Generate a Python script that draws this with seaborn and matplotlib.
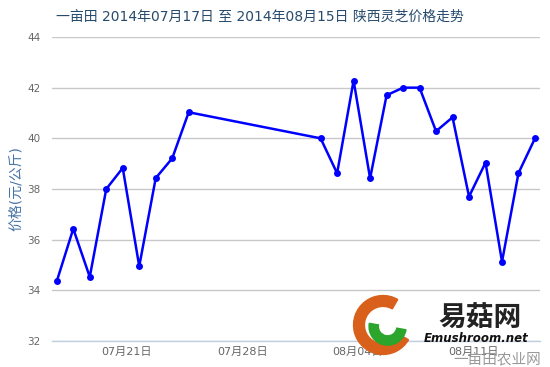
import matplotlib
matplotlib.use("Agg")
import matplotlib.pyplot as plt
import matplotlib.transforms as mtransforms
from matplotlib.patches import Wedge
import seaborn as sns
import pandas as pd

dates = ["2014-07-17", "2014-07-18", "2014-07-19", "2014-07-20", "2014-07-21",
         "2014-07-22", "2014-07-23", "2014-07-24", "2014-07-25",
         "2014-08-02", "2014-08-03", "2014-08-04", "2014-08-05", "2014-08-06",
         "2014-08-07", "2014-08-08", "2014-08-09", "2014-08-10", "2014-08-11",
         "2014-08-12", "2014-08-13", "2014-08-14", "2014-08-15"]
prices = [34.36, 36.43, 34.53, 38.0, 38.83, 34.95, 38.43, 39.21, 41.03,
          40.0, 38.62, 42.28, 38.42, 41.7, 42.0, 42.0, 40.28, 40.83, 37.7,
          39.04, 35.13, 38.63, 40.0]
tick_dates = ["2014-07-21", "2014-07-28", "2014-08-04", "2014-08-11"]
tick_labels = ["07月21日", "07月28日", "08月04日", "08月11日"]
y_ticks = [32, 34, 36, 38, 40, 42, 44]
title = "一亩田 2014年07月17日 至 2014年08月15日 陕西灵芝价格走势"
ylabel = "价格(元/公斤)"

df = pd.DataFrame({"date": pd.to_datetime(dates), "price": prices})

sns.set_style("white")
plt.rcParams['font.family'] = ['DejaVu Sans', 'Noto Sans CJK SC']

fig = plt.figure(figsize=(5.5, 3.67), dpi=100)
ax = fig.add_axes([0.0945, 0.0708, 0.8882, 0.8284])

sns.lineplot(data=df, x="date", y="price", ax=ax, color="#0000FF", lw=1.8,
             marker="o", markersize=5, markeredgewidth=0, zorder=3)

ax.set_ylim(32, 44)
ax.set_yticks(y_ticks)
ax.set_xlim(pd.Timestamp("2014-07-17") - pd.Timedelta(hours=7),
            pd.Timestamp("2014-08-15") + pd.Timedelta(hours=8))
ax.set_xticks(pd.to_datetime(tick_dates))
ax.set_xticklabels(tick_labels)
ax.grid(axis="y", color="#C8C8C8", lw=1)
ax.grid(axis="x", visible=False)
for s in ["top", "right", "left"]:
    ax.spines[s].set_visible(False)
ax.spines["bottom"].set_color("#C0D0E0")
ax.spines["bottom"].set_linewidth(1)
ax.tick_params(axis="both", length=0, colors="#666666", labelsize=7.5)
ax.tick_params(axis="x", pad=4, labelsize=8)
ax.tick_params(axis="y", pad=8)
offset = mtransforms.ScaledTranslation(4 / 100, 0, fig.dpi_scale_trans)
for lab in ax.get_xticklabels():
    lab.set_transform(lab.get_transform() + offset)
ax.set_xlabel("")
ax.set_ylabel(ylabel, color="#4572A7", fontsize=10, labelpad=3)
fig.text(0.473, 0.953, title, ha="center", va="center", color="#274b6d", fontsize=10)

# watermark logo
lax = fig.add_axes([352/550, (367-356)/367, 62/550, 62/367])
lax.set_xlim(-1, 1); lax.set_ylim(-1, 1); lax.set_aspect("equal"); lax.axis("off")
lax.add_patch(Wedge((0, 0), 0.95, 60, 330, width=0.35, color="#D9601A"))
lax.add_patch(Wedge((0.15, -0.05), 0.6, 170, 350, width=0.3, color="#2BA52B"))
fig.text(480/550, 1 - 319/367, "易菇网", ha="center", va="center", fontsize=20,
         fontweight="bold", color="#222222", family=["Noto Sans CJK SC"])
fig.text(476/550, 1 - 339/367, "Emushroom.net", ha="center", va="center", fontsize=8.5,
         fontweight="bold", style="italic", color="#111111")
fig.text(497/550, 1 - 359/367, "一亩田农业网", ha="center", va="center", fontsize=10.5,
         color="#999999", family=["Noto Sans CJK SC"])

fig.savefig("out.png", dpi=100)
